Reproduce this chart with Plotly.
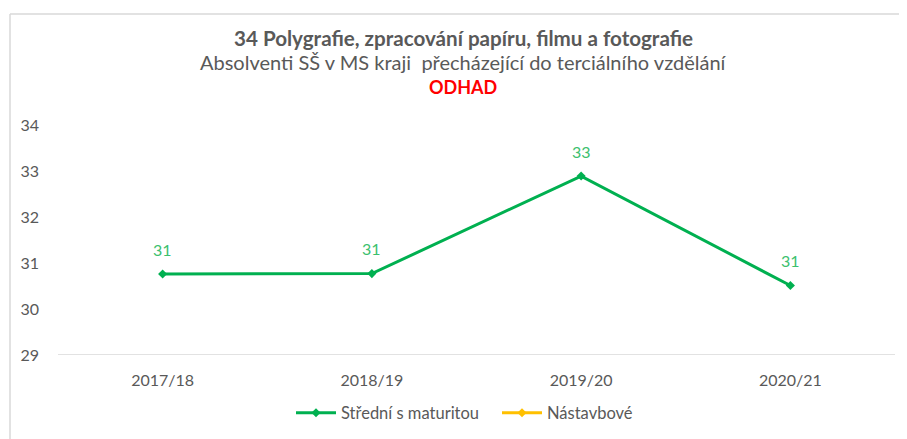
import plotly.graph_objects as go

categories = ["2017/18", "2018/19", "2019/20", "2020/21"]
stredni = [30.76, 30.77, 32.89, 30.51]
nastavbove = [None, None, None, None]
y_ticks = [29, 30, 31, 32, 33, 34]

FONT = "Lato"
GREEN = "#00b050"
YELLOW = "#ffc000"
GRAY = "#595959"

OFF = 8  # browser body margin
W, H = 907 - OFF, 439 - OFF
L, R, T, B = 58 - OFF, 12, 125 - OFF, 84
pw, ph = W - L - R, H - T - B

def px_x(x):
    return (x - OFF - L) / pw

def px_y(y):
    return (H - B - (y - OFF)) / ph

fig = go.Figure()
fig.add_trace(go.Scatter(
    x=categories, y=stredni, name="Střední s maturitou", mode="lines+markers",
    line=dict(color=GREEN, width=3), marker=dict(symbol="diamond", size=7, color=GREEN),
))
fig.add_trace(go.Scatter(
    x=categories, y=nastavbove, name="Nástavbové", mode="lines+markers",
    line=dict(color=YELLOW, width=3), marker=dict(symbol="diamond", size=7, color=YELLOW),
))

annotations = []
for c, v in zip(categories, stredni):
    annotations.append(dict(x=c, y=v, xref="x", yref="y", text=f"{round(v):d}",
                            showarrow=False, yshift=25,
                            font=dict(family=FONT, size=16, color="#3cbf6e")))

cx = px_x(463)
annotations += [
    dict(x=cx, y=px_y(38), xref="paper", yref="paper", showarrow=False,
         xanchor="center", yanchor="middle",
         text="<b>34 Polygrafie, zpracování papíru, filmu a fotografie</b>",
         font=dict(family=FONT, size=20.6, color=GRAY)),
    dict(x=cx, y=px_y(62), xref="paper", yref="paper", showarrow=False,
         xanchor="center", yanchor="middle",
         text="Absolventi SŠ v MS kraji  přecházející do terciálního vzdělání",
         font=dict(family=FONT, size=20, color=GRAY)),
    dict(x=cx, y=px_y(87), xref="paper", yref="paper", showarrow=False,
         xanchor="center", yanchor="middle",
         text="<b>ODHAD</b>",
         font=dict(family=FONT, size=18, color="#ff0000")),
]

shapes = [
    dict(type="line", xref="paper", yref="paper", x0=px_x(10), x1=px_x(10),
         y0=px_y(14), y1=px_y(445), line=dict(color="#d9d9d9", width=1.5)),
    dict(type="line", xref="paper", yref="paper", x0=px_x(10), x1=px_x(906),
         y0=px_y(14), y1=px_y(14), line=dict(color="#d9d9d9", width=1.5)),
]

fig.update_layout(
    width=W, height=H,
    margin=dict(l=L, r=R, t=T, b=B, autoexpand=False),
    paper_bgcolor="white", plot_bgcolor="white",
    font=dict(family=FONT, size=16, color=GRAY),
    showlegend=True,
    legend=dict(orientation="h", x=px_x(497), xanchor="center", y=px_y(413), yanchor="middle",
                font=dict(family=FONT, size=16.5, color=GRAY), itemwidth=40,
                entrywidth=151, bgcolor="rgba(0,0,0,0)"),
    annotations=annotations,
    shapes=shapes,
    xaxis=dict(range=[-0.5, 3.5], showgrid=False, zeroline=False, showline=False, ticks="",
               tickfont=dict(family=FONT, size=16, color=GRAY), ticklabelstandoff=14),
    yaxis=dict(range=[29, 34], tickvals=y_ticks, showgrid=False, zeroline=False,
               showline=False, ticks="", ticklabelstandoff=18,
               tickfont=dict(family=FONT, size=16, color=GRAY)),
)
fig.add_shape(type="line", xref="paper", yref="y", x0=0, x1=1, y0=29, y1=29,
              line=dict(color="#d9d9d9", width=1.5))

fig.write_html("out.html")
